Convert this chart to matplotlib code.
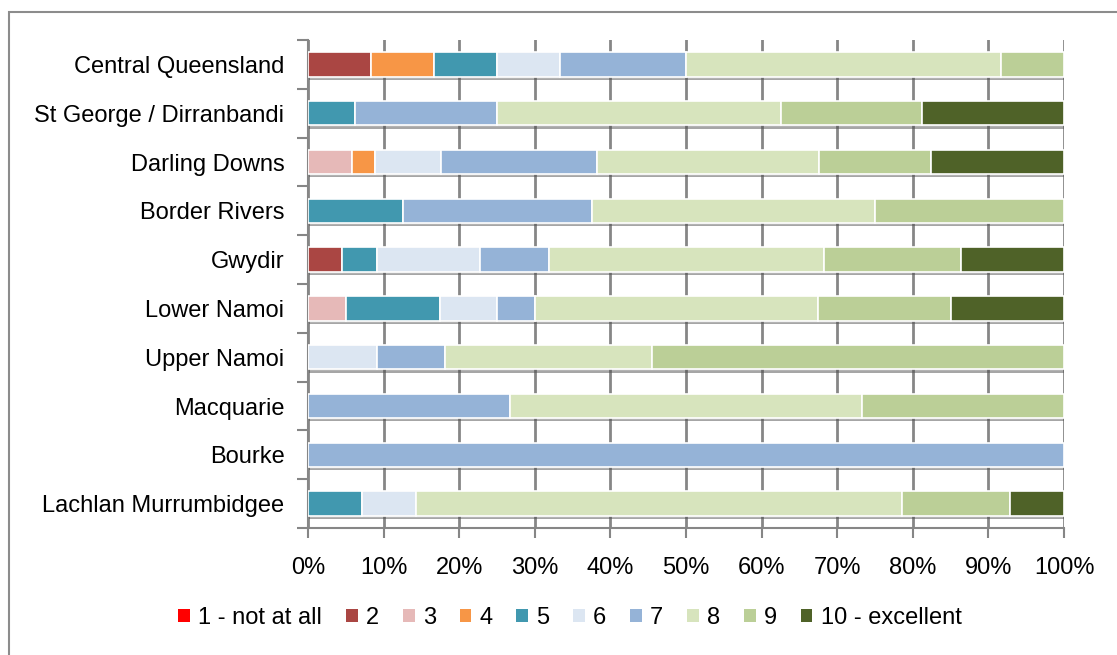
import matplotlib
matplotlib.use("Agg")
import matplotlib.pyplot as plt
from matplotlib.patches import Rectangle, Patch
from matplotlib import font_manager

regions = ["Central Queensland", "St George / Dirranbandi", "Darling Downs",
           "Border Rivers", "Gwydir", "Lower Namoi", "Upper Namoi",
           "Macquarie", "Bourke", "Lachlan Murrumbidgee"]

rating_labels = ["1 - not at all", "2", "3", "4", "5", "6", "7", "8", "9",
                 "10 - excellent"]

# share of respondents (%) per rating, one value per region (top to bottom)
r1 = [0, 0, 0, 0, 0, 0, 0, 0, 0, 0]
r2 = [8.33, 0, 0, 0, 4.55, 0, 0, 0, 0, 0]
r3 = [0, 0, 5.88, 0, 0, 5.0, 0, 0, 0, 0]
r4 = [8.33, 0, 2.94, 0, 0, 0, 0, 0, 0, 0]
r5 = [8.33, 6.25, 0, 12.5, 4.55, 12.5, 0, 0, 0, 7.14]
r6 = [8.33, 0, 8.82, 0, 13.64, 7.5, 9.09, 0, 0, 7.14]
r7 = [16.67, 18.75, 20.59, 25.0, 9.09, 5.0, 9.09, 26.67, 100, 0]
r8 = [41.67, 37.5, 29.41, 37.5, 36.36, 37.5, 27.27, 46.67, 0, 64.29]
r9 = [8.33, 18.75, 14.71, 25.0, 18.18, 17.5, 54.55, 26.67, 0, 14.29]
r10 = [0, 18.75, 17.65, 0, 13.64, 15.0, 0, 0, 0, 7.14]

series = [r1, r2, r3, r4, r5, r6, r7, r8, r9, r10]
colors = ["#FF0000", "#AA4643", "#E6B9B8", "#F79646", "#4198AF",
          "#DCE6F2", "#95B3D7", "#D7E4BD", "#BBCF97", "#4F6228"]

avail = {f.name for f in font_manager.fontManager.ttflist}
family = [f for f in ["Liberation Sans Narrow", "Liberation Sans", "DejaVu Sans"] if f in avail]
plt.rcParams["font.family"] = family

fig = plt.figure(figsize=(11.17, 6.55), dpi=100)
ax = fig.add_axes([308 / 1117, 1 - 528 / 655, (1064 - 308) / 1117, (528 - 40) / 655])

# outer chart border (left and top edges visible)
fig.patches.append(Rectangle((8.5 / 1117, -0.1), 1.2, 1 - 11.5 / 655 + 0.1,
                             transform=fig.transFigure, fill=False,
                             edgecolor="#8c8c8c", linewidth=1.5))

ypos = list(range(len(regions)))
bar_h = 0.5

# soft drop shadow beneath each bar
totals = [sum(s[i] for s in series) for i in ypos]
for k in range(5):
    ax.barh([y + bar_h / 2 + 0.012 * k + 0.006 for y in ypos], totals,
            height=0.012 * (5 - k) * 2, left=0, color="#505050",
            alpha=0.13, linewidth=0, zorder=2)

left = [0.0] * len(regions)
for vals, col in zip(series, colors):
    ys = [y for y, v in zip(ypos, vals) if v > 0]
    ws = [v for v in vals if v > 0]
    ls = [l for l, v in zip(left, vals) if v > 0]
    ax.barh(ys, ws, left=ls, height=bar_h, color=col, edgecolor="white",
            linewidth=1.2, zorder=3)
    left = [l + v for l, v in zip(left, vals)]

ax.set_xlim(0, 100)
ax.set_ylim(len(regions) - 0.5, -0.5)
ax.set_xticks(range(0, 101, 10))
ax.set_xticklabels([f"{t}%" for t in range(0, 101, 10)])
ax.set_yticks(ypos)
ax.set_yticklabels(regions)
ax.set_yticks([i - 0.5 for i in range(len(regions) + 1)], minor=True)

ax.grid(axis="x", color="#868686", linewidth=2, zorder=0)
ax.set_axisbelow(True)
for s in ["top", "right"]:
    ax.spines[s].set_visible(False)
for s in ["left", "bottom"]:
    ax.spines[s].set_color("#868686")
    ax.spines[s].set_linewidth(1.5)

ax.tick_params(axis="y", which="major", length=0, pad=17, labelsize=17, labelcolor="black")
ax.tick_params(axis="y", which="minor", length=8, width=1.5, color="#868686")
ax.tick_params(axis="x", which="major", length=7, width=1.5, color="#868686",
               pad=14, labelsize=17, labelcolor="black")

handles = [Patch(facecolor=c, edgecolor="none") for c in colors]
fig.legend(handles, rating_labels, loc="center", bbox_to_anchor=(570 / 1117, 1 - 618 / 655),
           ncol=10, frameon=False, fontsize=17, handlelength=0.5, handleheight=0.5,
           handletextpad=0.35, columnspacing=1.0)

fig.savefig("out.png", dpi=100)
